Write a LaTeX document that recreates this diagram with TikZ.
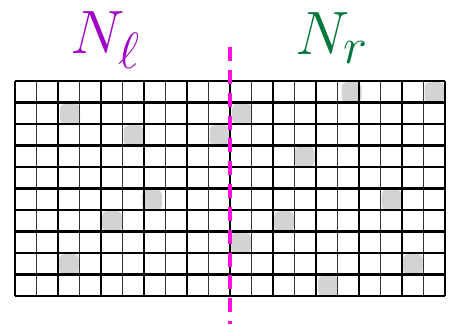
\documentclass[tikz,border=0pt]{standalone}
\usepackage{tikz}

\definecolor{leftpurple}{HTML}{A000C8}
\definecolor{rightgreen}{HTML}{00763B}
\definecolor{dotgray}{HTML}{D3D3D3}
\definecolor{cutpink}{HTML}{FF10E0}

\newcommand{\biglabel}[1]{\scalebox{1.4}{$#1$}}

\begin{document}
\begin{tikzpicture}[x=0.02cm, y=-0.02cm,
  major/.style={line width=1.5pt, black},
  minor/.style={line width=0.8pt, black!80},
  rowline/.style={line width=1.3pt, black},
  dot/.style={fill=dotgray, rounded corners=3pt},
  cut/.style={cutpink, line width=2.3pt, dash pattern=on 8pt off 5pt},
  label/.style={font=\Huge}]
  \useasboundingbox (0,0) rectangle (455,324);
  \def\cell{21.5}

  % Dots
  \foreach \c/\r/\dx in {2/1/1, 5/2/0, 9/2/0, 6/5/-3, 4/6/0, 2/8/0,
                         15/0/3, 19/0/0, 10/1/1, 13/3/-1, 17/5/0,
                         12/6/0, 10/7/0, 18/8/0, 14/9/1}
    \fill[dot] ({15+\c*\cell+1+\dx},{81+\r*\cell+1}) rectangle ++(20,21);

  % Grid
  \foreach \i in {0,2,...,20}
    \draw[major] ({15+\i*\cell},81) -- ({15+\i*\cell},296);
  \foreach \i in {1,3,...,19}
    \draw[minor] ({15+\i*\cell},81) -- ({15+\i*\cell},296);
  \foreach \j in {0,...,10}
    \draw[rowline] (15,{81+\j*\cell}) -- (445,{81+\j*\cell});

  % Cut
  \coordinate (cuttop) at (230,47);
  \coordinate (cutbot) at (230,324);
  \draw[cut] (cuttop) -- (cutbot);

  % Labels
  \node[label, text=leftpurple] (nl) at (106,40) {\biglabel{N_\ell}};
  \node[label, text=rightgreen] (nr) at (332,38) {\biglabel{N_r}};
\end{tikzpicture}
\end{document}
